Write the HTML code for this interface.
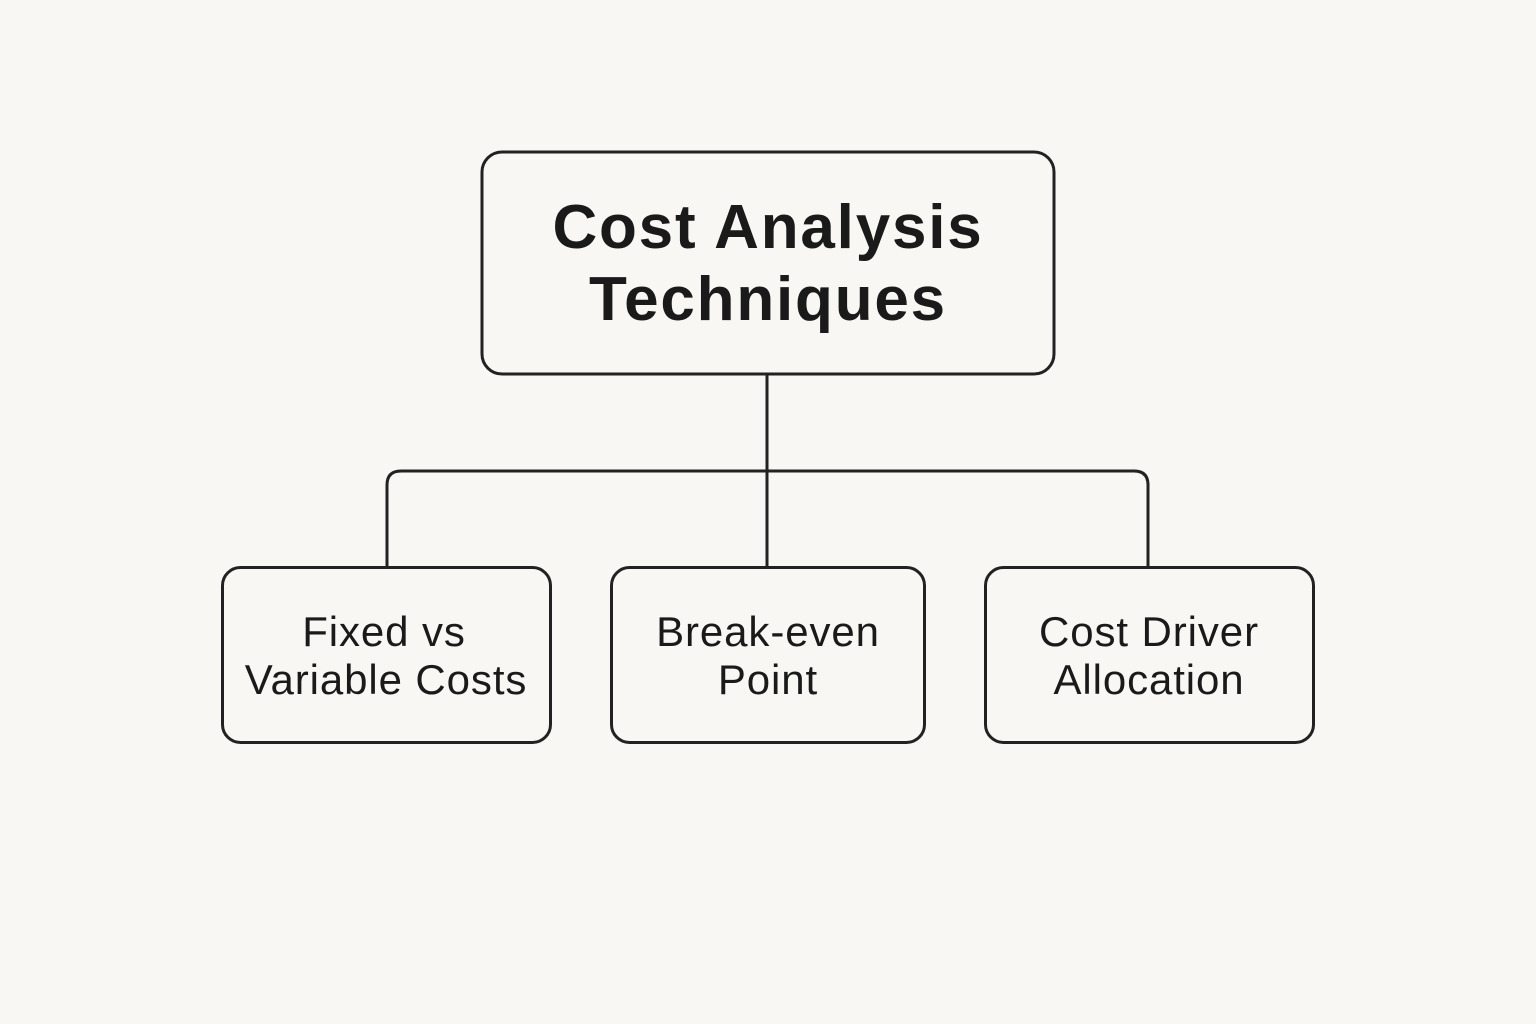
<!DOCTYPE html>
<html><head><meta charset="utf-8"><style>
html,body{margin:0;padding:0;background:#f8f7f3;}
svg{display:block;}
</style></head><body>
<svg width="1536" height="1024" viewBox="0 0 1536 1024" xmlns="http://www.w3.org/2000/svg">
<rect width="1536" height="1024" fill="#f8f7f3"/>
<g fill="none" stroke="#222" stroke-width="3">
<rect x="482" y="152" width="572" height="222" rx="20"/>
<path d="M767 374 V567"/>
<path d="M387 567 V485 Q387 471 401 471 H1134 Q1148 471 1148 485 V567"/>
<rect x="222.5" y="567.5" width="328" height="175" rx="18"/>
<rect x="611.5" y="567.5" width="313" height="175" rx="18"/>
<rect x="985.5" y="567.5" width="328" height="175" rx="18"/>
</g>
<g font-family="Liberation Sans, sans-serif" fill="#1a1a1a" text-anchor="middle">
<text x="768" y="248" font-size="62" font-weight="bold" letter-spacing="1.8">Cost Analysis</text>
<text x="768" y="320" font-size="62" font-weight="bold" letter-spacing="1.8">Techniques</text>
<g font-size="42" letter-spacing="0.9">
<text x="384" y="646">Fixed vs</text>
<text x="386" y="694">Variable Costs</text>
<text x="768" y="646">Break-even</text>
<text x="768" y="694">Point</text>
<text x="1149" y="646">Cost Driver</text>
<text x="1149" y="694">Allocation</text>
</g>
</g>
</svg>
</body></html>
